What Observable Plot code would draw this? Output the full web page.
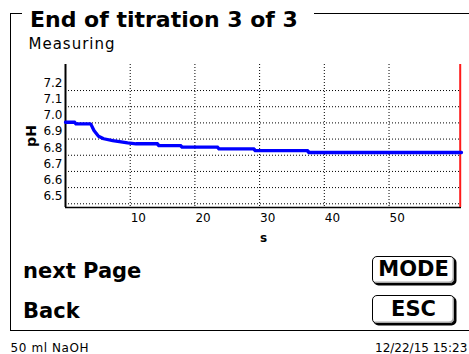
<!DOCTYPE html>
<html><head><meta charset="utf-8">
<script src="https://cdn.jsdelivr.net/npm/d3@7"></script>
<script src="https://cdn.jsdelivr.net/npm/@observablehq/plot@0.6"></script>
<style>
html,body{margin:0;padding:0;background:#fff;}
#screen{position:relative;width:469px;height:354px;overflow:hidden;font-family:"DejaVu Sans",sans-serif;color:#000;background:#fff;}
.ln{position:absolute;background:#000;}
.t{position:absolute;white-space:nowrap;line-height:normal;}
.btn{position:absolute;box-sizing:border-box;border:1.5px solid #000;border-radius:5px;box-shadow:1.5px 1.5px 0 #000, inset -1.5px -1.5px 0 #aaa;background:#fff;font-weight:bold;font-size:21px;text-align:center;}
#chart{position:absolute;left:0;top:50px;}
#chart svg [aria-label="y-axis label"] text{font-weight:bold;font-size:14px;}
#chart svg [aria-label="x-axis label"] text{font-weight:bold;}
</style></head><body>
<div id="screen">
  <div class="ln" style="left:10px;top:12.5px;width:12px;height:1.3px"></div>
  <div class="ln" style="left:314px;top:12.5px;width:155px;height:1.3px"></div>
  <div class="ln" style="left:9.5px;top:12.5px;width:1.3px;height:318px"></div>
  <div class="ln" style="left:9.5px;top:329.5px;width:460px;height:1.3px"></div>
  <div class="t" id="title" style="left:30px;top:6.5px;font-size:22px;font-weight:bold">End of titration 3 of 3</div>
  <div class="t" style="left:28.5px;top:34.5px;font-size:15px;letter-spacing:1px">Measuring</div>
  <div id="chart"></div>
  <div class="t" style="left:23px;top:258.8px;font-size:21px;font-weight:bold">next Page</div>
  <div class="t" style="left:23px;top:298.8px;font-size:21px;font-weight:bold">Back</div>
  <div class="btn" style="left:372px;top:256px;width:83px;height:28px;line-height:25px">MODE</div>
  <div class="btn" style="left:372px;top:295px;width:83px;height:29px;line-height:26px">ESC</div>
  <div class="t" style="left:10.5px;top:341.8px;font-size:12px;line-height:12px;letter-spacing:0.6px">50 ml NaOH</div>
  <div class="t" style="left:375px;top:341.8px;font-size:12px;line-height:12px">12/22/15 15:23</div>
</div>
<script>
const time = [0, 1.5, 1.5, 3.9, 4.4, 5.1, 5.9, 7.3, 9.6, 10.9, 14.3, 14.3, 17.9, 17.9, 23.6, 23.6, 29.2, 29.2, 37.5, 37.5, 61.2];
const pH   = [7.004, 7.004, 6.994, 6.994, 6.953, 6.918, 6.902, 6.891, 6.877, 6.871, 6.871, 6.860, 6.860, 6.850, 6.850, 6.840, 6.840, 6.829, 6.829, 6.817, 6.817];
const xTicks = [10, 20, 30, 40, 50];
const yTicks = [6.5, 6.6, 6.7, 6.8, 6.9, 7.0, 7.1, 7.2];
const xDomain = [0, 61.2];
const yDomain = [6.477, 7.361];
const endTime = 61.0;
const xLabel = "s";
const yLabel = "pH";

const data = time.map((t, i) => ({t, pH: pH[i]}));

const chart = Plot.plot({
  width: 469, height: 200,
  marginLeft: 65, marginRight: 8, marginTop: 14, marginBottom: 43,
  style: {fontFamily: "DejaVu Sans", fontSize: "12px", color: "#000", background: "transparent", overflow: "visible"},
  x: {domain: xDomain},
  y: {domain: yDomain},
  marks: [
    Plot.gridX(xTicks, {stroke: "#000", strokeOpacity: 1, strokeWidth: 1, strokeDasharray: "1,2"}),
    Plot.gridY(yTicks, {stroke: "#000", strokeOpacity: 1, strokeWidth: 1, strokeDasharray: "1,2"}),
    Plot.axisX(xTicks, {tickSize: 0, tickPadding: 6, textAnchor: "start", dx: 0.5, label: xLabel, labelAnchor: "center", labelArrow: "none", labelOffset: 34}),
    Plot.axisY(yTicks, {tickSize: 0, tickPadding: 3, dy: -7.5, tickFormat: d3.format(".1f"), label: yLabel, labelAnchor: "center", labelArrow: "none", labelOffset: 39, fontSize: 12}),
    Plot.ruleY([yDomain[0]], {stroke: "#000", strokeWidth: 1.5}),
    Plot.ruleX([xDomain[0]], {stroke: "#000", strokeWidth: 2}),
    Plot.ruleX([endTime], {stroke: "#ff1a1a", strokeWidth: 2}),
    Plot.line(data, {x: "t", y: "pH", stroke: "#0000ff", strokeWidth: 3.3, strokeLinejoin: "miter"})
  ]
});
document.getElementById("chart").appendChild(chart);
</script>
</body></html>
